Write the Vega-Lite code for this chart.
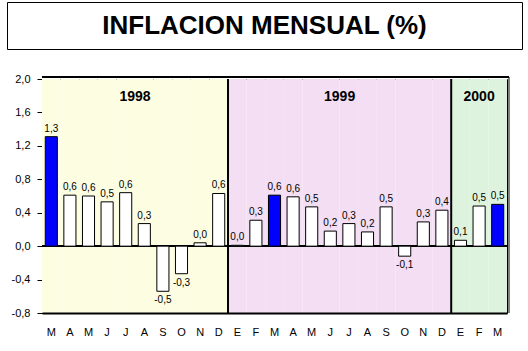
{
  "$schema": "https://vega.github.io/schema/vega-lite/v6.json",
  "background": "white",
  "padding": {"left": 6, "top": 1, "right": 0, "bottom": 0},
  "config": {
    "font": "Liberation Sans",
    "locale": {"number": {"decimal": ",", "thousands": ".", "grouping": [3], "currency": ["", ""], "minus": "-"}},
    "view": {"stroke": null}
  },
  "spacing": 22,
  "datasets": {
    "meses": [
      {"k": "1998-03", "anio": 1998, "v": 1.31},
      {"k": "1998-04", "anio": 1998, "v": 0.61},
      {"k": "1998-05", "anio": 1998, "v": 0.60},
      {"k": "1998-06", "anio": 1998, "v": 0.53},
      {"k": "1998-07", "anio": 1998, "v": 0.64},
      {"k": "1998-08", "anio": 1998, "v": 0.27},
      {"k": "1998-09", "anio": 1998, "v": -0.54},
      {"k": "1998-10", "anio": 1998, "v": -0.33},
      {"k": "1998-11", "anio": 1998, "v": 0.04},
      {"k": "1998-12", "anio": 1998, "v": 0.63},
      {"k": "1999-01", "anio": 1999, "v": 0.01},
      {"k": "1999-02", "anio": 1999, "v": 0.31},
      {"k": "1999-03", "anio": 1999, "v": 0.61},
      {"k": "1999-04", "anio": 1999, "v": 0.59},
      {"k": "1999-05", "anio": 1999, "v": 0.47},
      {"k": "1999-06", "anio": 1999, "v": 0.18},
      {"k": "1999-07", "anio": 1999, "v": 0.27},
      {"k": "1999-08", "anio": 1999, "v": 0.17},
      {"k": "1999-09", "anio": 1999, "v": 0.47},
      {"k": "1999-10", "anio": 1999, "v": -0.12},
      {"k": "1999-11", "anio": 1999, "v": 0.29},
      {"k": "1999-12", "anio": 1999, "v": 0.43},
      {"k": "2000-01", "anio": 2000, "v": 0.07},
      {"k": "2000-02", "anio": 2000, "v": 0.48},
      {"k": "2000-03", "anio": 2000, "v": 0.50}
    ],
    "divisiones": [{"k": "1999-01"}, {"k": "2000-01"}],
    "anios_a": [{"k": "1998-08", "t": "1998"}, {"k": "1999-07", "t": "1999"}],
    "anios_b": [{"k": "2000-02", "t": "2000"}],
    "ultimo": [{"k": "2000-03"}]
  },
  "vconcat": [
    {
      "width": 515,
      "height": 47,
      "view": {"stroke": "black", "strokeWidth": 1},
      "data": {"values": [{"t": "INFLACION MENSUAL (%)"}]},
      "mark": {"type": "text", "font": "Liberation Sans", "fontSize": 26, "fontWeight": "bold", "color": "black", "baseline": "middle", "align": "center"},
      "encoding": {"text": {"field": "t"}}
    },
    {
      "spacing": 0,
      "hconcat": [
        {
          "width": 3,
          "height": 234,
          "data": {"values": [{"t": ""}]},
          "mark": {"type": "text"},
          "encoding": {"text": {"field": "t"}}
        },
        {
          "width": 465,
          "height": 234,
          "view": {"stroke": "black", "strokeWidth": 1},
          "encoding": {
            "x": {
              "field": "k", "type": "ordinal", "sort": null,
              "scale": {"paddingInner": 0, "paddingOuter": 0},
              "axis": {
                "title": null, "orient": "bottom", "ticks": false, "labelAngle": 0,
                "labelPadding": 13, "labelFontSize": 11, "labelColor": "black",
                "domainColor": "black", "domainWidth": 2,
                "labelExpr": "['E','F','M','A','M','J','J','A','S','O','N','D'][toNumber(substring(datum.value,5,7))-1]"
              }
            }
          },
          "layer": [
            {
              "data": {"name": "meses"},
              "mark": {"type": "rect"},
              "encoding": {
                "y": {"datum": 2.0, "type": "quantitative",
                  "scale": {"domain": [-0.8, 2.0], "nice": false, "zero": false},
                  "axis": {"title": null, "format": ".1f", "values": [-0.8, -0.4, 0, 0.4, 0.8, 1.2, 1.6, 2.0],
                    "tickCount": 10,
                    "grid": false, "tickSize": 5, "tickColor": "black", "domainColor": "black",
                    "labelOverlap": false, "labelBound": false, "labelFlush": false,
                    "labelPadding": 7, "labelFontSize": 11, "labelColor": "black"}},
                "y2": {"datum": -0.8},
                "fill": {"field": "anio", "type": "nominal", "legend": null,
                  "scale": {"domain": [1998, 1999, 2000], "range": ["#fdfde2", "#f3def3", "#def3de"]}}
              }
            },
            {
              "data": {"name": "meses"},
              "mark": {"type": "rule", "color": "black", "strokeWidth": 1.2},
              "encoding": {"y": {"datum": 0, "type": "quantitative"}, "x": null}
            },
            {
              "data": {"name": "meses"},
              "mark": {"type": "rule", "color": "black", "strokeWidth": 1, "yOffset": -2, "xOffset": 2},
              "encoding": {"y": {"datum": 2.0, "type": "quantitative"}, "x": null}
            },
            {
              "data": {"name": "ultimo"},
              "mark": {"type": "rule", "color": "black", "strokeWidth": 1, "xOffset": 2, "yOffset": -2},
              "encoding": {
                "x": {"field": "k", "type": "ordinal", "sort": null, "bandPosition": 1},
                "y": {"datum": 2.0, "type": "quantitative"},
                "y2": {"datum": -0.8}
              }
            },
            {
              "data": {"name": "divisiones"},
              "mark": {"type": "rule", "color": "black", "strokeWidth": 2},
              "encoding": {
                "x": {"field": "k", "type": "ordinal", "sort": null, "bandPosition": 0},
                "y": {"datum": 2.0, "type": "quantitative"},
                "y2": {"datum": -0.8}
              }
            },
            {
              "data": {"name": "meses"},
              "mark": {"type": "bar", "width": {"band": 0.65}, "stroke": "black", "strokeWidth": 1},
              "encoding": {
                "y": {"field": "v", "type": "quantitative"},
                "y2": {"datum": 0},
                "fill": {"condition": {"test": "substring(datum.k,5,7) == '03'", "value": "#0000ff"}, "value": "white"}
              }
            },
            {
              "data": {"name": "meses"},
              "mark": {"type": "text", "fontSize": 10, "color": "black",
                "baseline": {"expr": "datum.v >= 0 ? 'bottom' : 'top'"},
                "dy": {"expr": "datum.v >= 0 ? -3 : 4"}},
              "encoding": {
                "y": {"field": "v", "type": "quantitative"},
                "text": {"field": "v", "type": "quantitative", "format": ".1f"}
              }
            },
            {
              "data": {"name": "anios_a"},
              "mark": {"type": "text", "fontSize": 14, "fontWeight": "bold", "color": "black", "baseline": "middle"},
              "encoding": {
                "x": {"field": "k", "type": "ordinal", "sort": null, "bandPosition": 0},
                "y": {"datum": 1.78, "type": "quantitative"},
                "text": {"field": "t"}
              }
            },
            {
              "data": {"name": "anios_b"},
              "mark": {"type": "text", "fontSize": 14, "fontWeight": "bold", "color": "black", "baseline": "middle"},
              "encoding": {
                "x": {"field": "k", "type": "ordinal", "sort": null, "bandPosition": 0.5},
                "y": {"datum": 1.78, "type": "quantitative"},
                "text": {"field": "t"}
              }
            }
          ]
        }
      ]
    }
  ]
}
